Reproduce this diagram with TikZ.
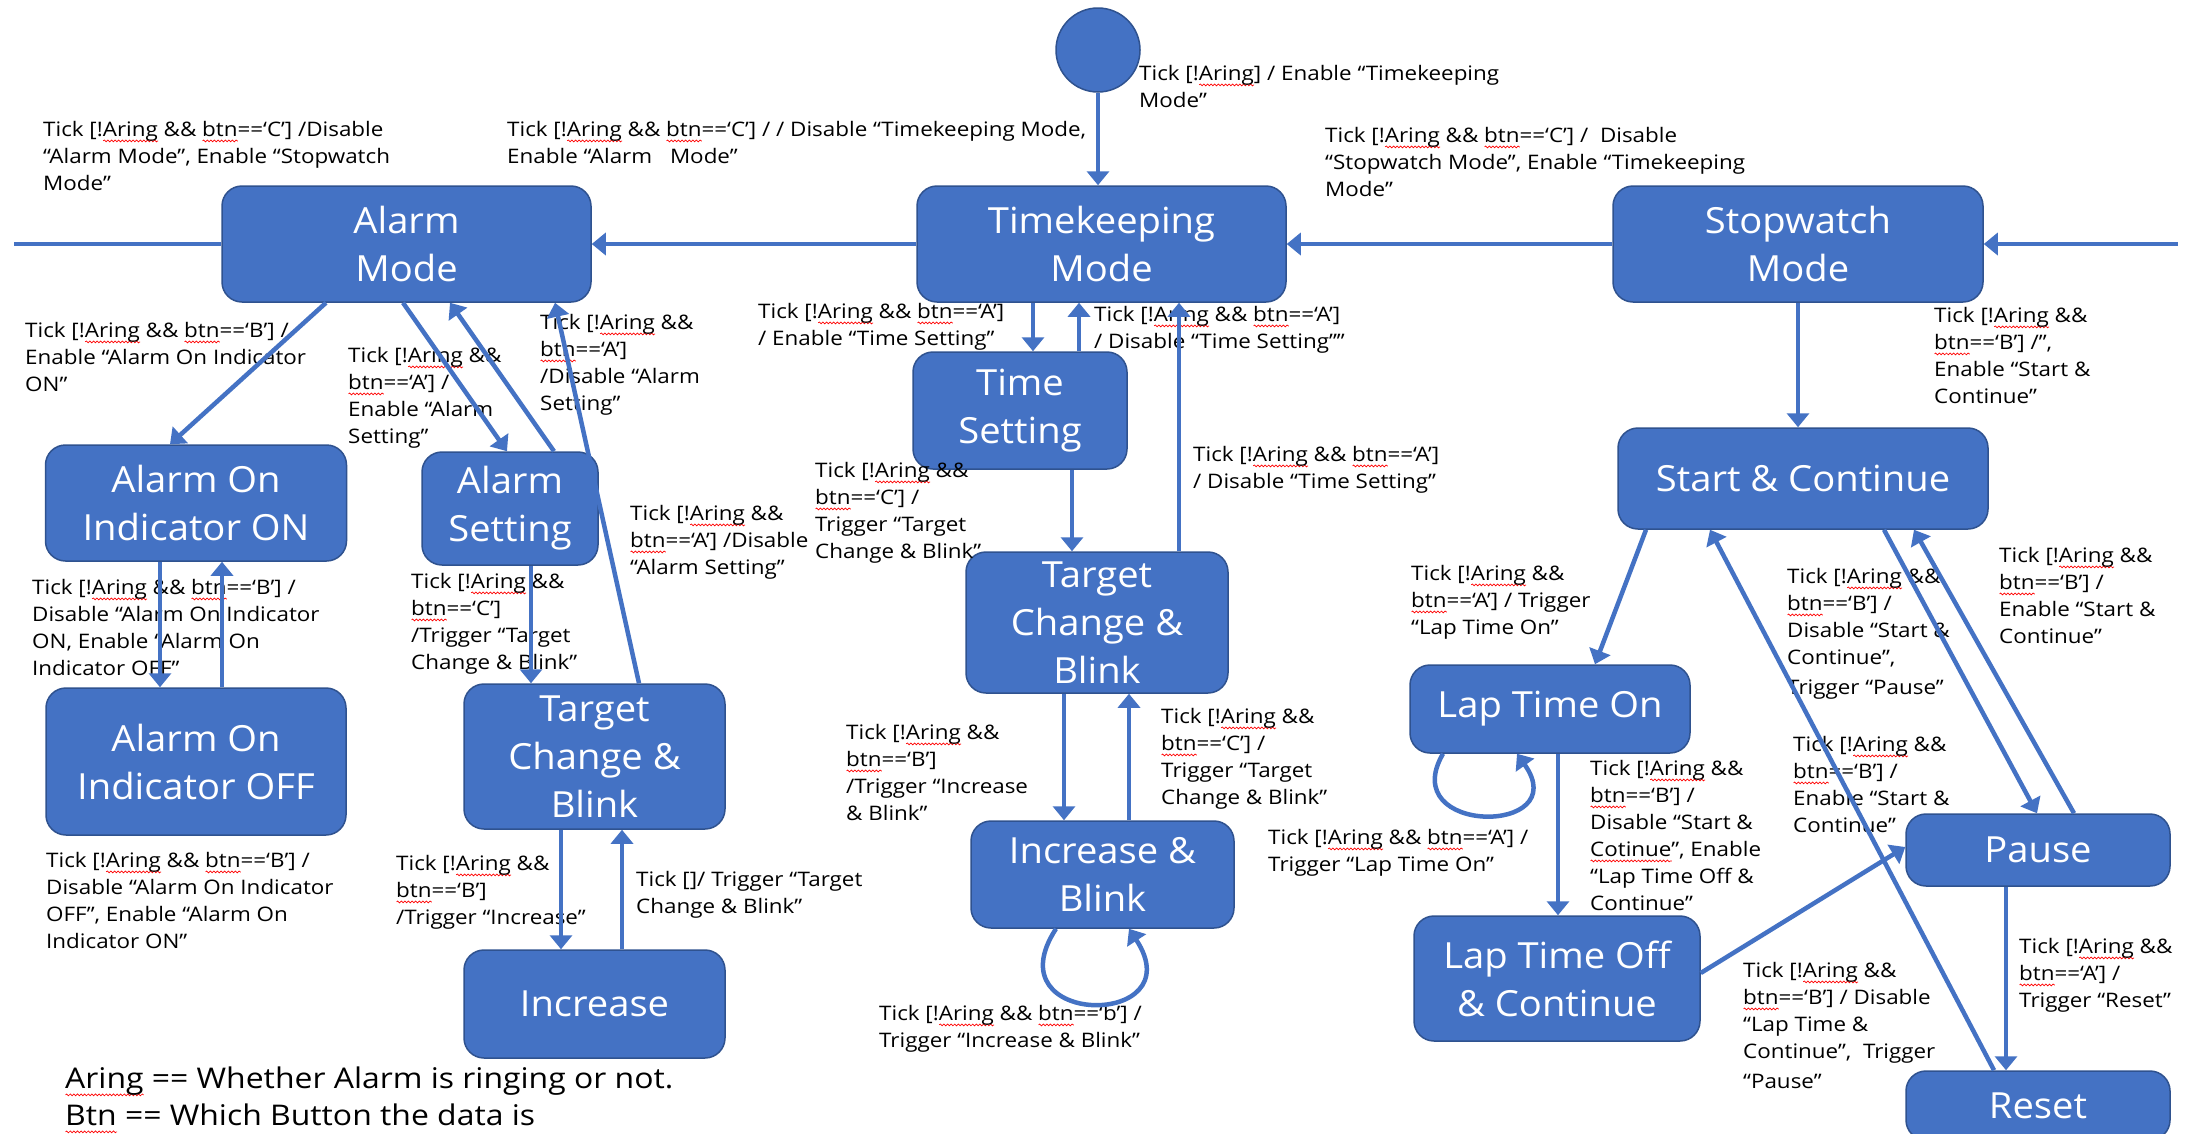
\documentclass[tikz,border=0pt]{standalone}
\usepackage{fontspec}
\setmainfont{Open Sans}[FakeStretch=1.12]
\newfontfamily\nodefont{Open Sans}[FakeStretch=1.06]
\usetikzlibrary{arrows.meta,calc,decorations.pathmorphing}
\definecolor{nblue}{HTML}{4472C4}
\definecolor{nedge}{HTML}{2F528F}
\tikzset{sqline/.style={draw=red, line width=0.7pt, decorate,
  decoration={snake, amplitude=0.9pt, segment length=3.6pt}}}
% red wavy underline (spell-check mark) under a word
\newlength\sqlen
\newcommand\sq[2][4.5pt]{\settowidth\sqlen{#2}\rlap{\smash{\tikz[baseline=0pt]\draw[sqline] (0pt,-#1) -- (\sqlen,-#1);}}#2}
\newcommand\wA{\sq{Aring}}
\newcommand\wB{\sq{btn}}
\begin{document}
\begin{tikzpicture}[x=1pt,y=-1pt,
  stbox/.style={rectangle, rounded corners=20pt, fill=nblue, draw=nedge, line width=1.5pt,
    text=white, align=center, inner sep=0pt, font=\nodefont\fontsize{36}{48}\selectfont},
  lbl/.style={anchor=north west, inner sep=0pt, align=left, text=black,
    font=\fontsize{20}{27}\selectfont},
  arr/.style={draw=nblue, line width=4.5pt, -{Triangle[length=14pt,width=22pt]}},
  ln/.style={draw=nblue, line width=4.5pt}]
\fill[white] (0,0) rectangle (2201,1133);
\useasboundingbox (0,0) rectangle (2201,1133);

% ---- states ----
\node[circle, fill=nblue, draw=nedge, line width=1.5pt, minimum size=84pt, inner sep=0pt] (init) at (1098,50) {};
\node[stbox, minimum width=369pt, minimum height=116pt] (am) at (406.5,244) {Alarm\\Mode};
\node[stbox, minimum width=369pt, minimum height=116pt] (tk) at (1101.5,244) {Timekeeping\\Mode};
\node[stbox, minimum width=370pt, minimum height=116pt] (sw) at (1798,244) {Stopwatch\\Mode};
\node[stbox, minimum width=301pt, minimum height=116pt] (aoi) at (196,503) {Alarm On\\Indicator ON};
\node[stbox, minimum width=176pt, minimum height=113pt] (as) at (510,508.5) {Alarm\\Setting};
\node[stbox, minimum width=300pt, minimum height=147pt] (aoff) at (196,761.5) {Alarm On\\Indicator OFF};
\node[stbox, minimum width=261pt, minimum height=145pt] (tcb1) at (594.5,756.5) {Target\\Change \&\\Blink};
\node[stbox, minimum width=261pt, minimum height=108pt] (inc) at (594.5,1004) {Increase};
\node[stbox, minimum width=214pt, minimum height=117pt] (ts) at (1020,410.5) {Time\\Setting};
\node[stbox, minimum width=262pt, minimum height=141pt] (tcb2) at (1097,622.5) {Target\\Change \&\\Blink};
\node[stbox, minimum width=263pt, minimum height=107pt] (ib) at (1102.5,874.5) {Increase \&\\Blink};
\node[stbox, minimum width=370pt, minimum height=101pt] (sc) at (1803,478.5) {Start \& Continue};
\node[stbox, minimum width=280pt, minimum height=88pt] (lon) at (1550,709) {Lap Time On};
\node[stbox, minimum width=286pt, minimum height=125pt] (loff) at (1557,978.5) {Lap Time Off\\\& Continue};
\node[stbox, minimum width=264pt, minimum height=72pt] (pause) at (2038,850) {Pause};
\node[stbox, minimum width=264pt, minimum height=69pt] (reset) at (2038,1105.5) {Reset};

% ---- transition labels ----
\node[lbl] (l1) at (1139,65) {Tick [!\wA] / Enable “Timekeeping\\Mode”};
\node[lbl] (l2) at (43,121) {Tick [!\wA{} \&\& \wB==‘C’] /Disable\\“Alarm Mode”, Enable “Stopwatch\\Mode”};
\node[lbl] (l3) at (507,121) {Tick [!\wA{} \&\& \wB==‘C’] / / Disable “Timekeeping Mode,\\Enable “Alarm\hspace{12pt} Mode”};
\node[lbl] (l4) at (1325,127) {Tick [!\wA{} \&\& \wB==‘C’] /\ \ Disable\\“Stopwatch Mode”, Enable “Timekeeping\\Mode”};
\node[lbl] (l5) at (25,322) {Tick [!\wA{} \&\& \wB==‘B’] /\\Enable “Alarm On Indicator\\ON”};
\node[lbl] (l6) at (348,347) {Tick [!\wA{} \&\&\\\wB==‘A’] /\\Enable “Alarm\\Setting”};
\node[lbl] (l7) at (540,314) {Tick [!\wA{} \&\&\\\wB==‘A’]\\/Disable “Alarm\\Setting”};
\node[lbl] (l8) at (32,579) {Tick [!\wA{} \&\& \wB==‘B’] /\\Disable “Alarm On Indicator\\ON, Enable “Alarm On\\Indicator OFF”};
\node[lbl] (l9) at (46,852) {Tick [!\wA{} \&\& \wB==‘B’] /\\Disable “Alarm On Indicator\\OFF”, Enable “Alarm On\\Indicator ON”};
\node[lbl] (l10) at (411,573) {Tick [!\wA{} \&\&\\\wB==‘C’]\\/Trigger “Target\\Change \& Blink”};
\node[lbl] (l11) at (396,855) {Tick [!\wA{} \&\&\\\wB==‘B’]\\/Trigger “Increase”};
\node[lbl] (l12) at (636,871) {Tick []/ Trigger “Target\\Change \& Blink”};
\node[lbl] (l13) at (630,505) {Tick [!\wA{} \&\&\\\wB==‘A’] /Disable\\“Alarm Setting”};
\node[lbl] (l14) at (758,303) {Tick [!\wA{} \&\& \wB==‘A’]\\/ Enable “Time Setting”};
\node[lbl] (l15) at (1094,306) {Tick [!\wA{} \&\& \wB==‘A’]\\/ Disable “Time Setting””};
\node[lbl] (l16) at (1193,446) {Tick [!\wA{} \&\& \wB==‘A’]\\/ Disable “Time Setting”};
\node[lbl] (l17) at (815,462) {Tick [!\wA{} \&\&\\\wB==‘C’] /\\Trigger “Target\\Change \& Blink”};
\node[lbl] (l18) at (846,724) {Tick [!\wA{} \&\&\\\wB==‘B’]\\/Trigger “Increase\\\& Blink”};
\node[lbl] (l19) at (1161,708) {Tick [!\wA{} \&\&\\\wB==‘C’] /\\Trigger “Target\\Change \& Blink”};
\node[lbl] (l20) at (879,1005) {Tick [!\wA{} \&\& \wB==‘b’] /\\Trigger “Increase \& Blink”};
\node[lbl] (l21) at (1934,307) {Tick [!\wA{} \&\&\\\wB==‘B’] /”,\\Enable “Start \&\\Continue”};
\node[lbl] (l22) at (1411,565) {Tick [!\wA{} \&\&\\\wB==‘A’] / Trigger\\“Lap Time On”};
\node[lbl] (l23) at (1268,829) {Tick [!\wA{} \&\& \wB==‘A’] /\\Trigger “Lap Time On”};
\node[lbl] (l24) at (1590,760) {Tick [!\wA{} \&\&\\\wB==‘B’] /\\Disable “Start \&\\\sq{Cotinue}”, Enable\\“Lap Time Off \&\\Continue”};
\node[lbl] (l25) at (1743,962) {Tick [!\wA{} \&\&\\\wB==‘B’] / Disable\\“Lap Time \&\\Continue”,\ \ Trigger\\[3pt]“Pause”};
\node[lbl] (l26) at (1787,568) {Tick [!\wA{} \&\&\\\wB==‘B’] /\\Disable “Start \&\\Continue”,\\[3pt]Trigger “Pause”};
\node[lbl] (l27) at (1999,547) {Tick [!\wA{} \&\&\\\wB==‘B’] /\\Enable “Start \&\\Continue”};
\node[lbl] (l28) at (1793,736) {Tick [!\wA{} \&\&\\\wB==‘B’] /\\Enable “Start \&\\Continue”};
\node[lbl] (l29) at (2019,938) {Tick [!\wA{} \&\&\\\wB==‘A’] /\\Trigger “Reset”};
\node[lbl, font=\fontsize{28.5}{37}\selectfont] (legend) at (65,1067)
  {\sq[6pt]{Aring} == Whether Alarm is ringing or not.\\\sq[6pt]{Btn} == Which Button the data is};

% ---- transitions ----
\coordinate (wl) at (14,244);
\coordinate (wr) at (2178,244);
\draw[arr] (init.south) -- (init.south |- tk.north);
\draw[ln] (wl) -- (am.west);
\draw[arr] (wr) -- (sw.east);
\draw[arr] (tk.west) -- (am.east);
\draw[arr] (sw.west) -- (tk.east);

\draw[arr] ([xshift=-80.5pt]am.south) -- ([xshift=-26pt]aoi.north);
\draw[arr] ([xshift=-3.5pt]am.south) -- ([xshift=-3pt]as.north);
\draw[arr] ([xshift=44pt]as.north) -- ([xshift=43.5pt]am.south);
\draw[arr] ([xshift=44.5pt]tcb1.north) -- ([xshift=148.5pt]am.south);
\draw[arr] ([xshift=-36pt]aoi.south) -- ([xshift=-36pt]aoi.south |- aoff.north);
\draw[arr] ([xshift=26pt]aoff.north) -- ([xshift=26pt]aoff.north |- aoi.south);
\draw[arr] ([xshift=21pt]as.south) -- ([xshift=21pt]as.south |- tcb1.north);
\draw[arr] ([xshift=-33.5pt]tcb1.south) -- ([xshift=-33.5pt]tcb1.south |- inc.north);
\draw[arr] ([xshift=27.5pt]inc.north) -- ([xshift=27.5pt]inc.north |- tcb1.south);

\draw[arr] ([xshift=-68.5pt]tk.south) -- ([xshift=-68.5pt]tk.south |- ts.north);
\draw[arr] ([xshift=59pt]ts.north) -- ([xshift=59pt]ts.north |- tk.south);
\draw[arr] ([xshift=82pt]tcb2.north) -- ([xshift=82pt]tcb2.north |- tk.south);
\draw[arr] ([xshift=52pt]ts.south) -- ([xshift=52pt]ts.south |- tcb2.north);
\draw[arr] ([xshift=-33pt]tcb2.south) -- ([xshift=-33pt]tcb2.south |- ib.north);
\draw[arr] ([xshift=26.5pt]ib.north) -- ([xshift=26.5pt]ib.north |- tcb2.south);
\draw[arr] ([xshift=-46.5pt]ib.south) .. controls ($(ib.south)+(-112,100)$) and ($(ib.south)+(92,100)$) .. ([xshift=26.5pt]ib.south);

\draw[arr] (sw.south) -- (sw.south |- sc.north);
\draw[arr] ([xshift=-157pt]sc.south) -- ([xshift=45pt]lon.north);
\draw[arr] ([xshift=-107pt]lon.south) .. controls ($(lon.south)+(-155,82)$) and ($(lon.south)+(25,82)$) .. ([xshift=-33pt]lon.south);
\draw[arr] ([xshift=8pt]lon.south) -- ([xshift=8pt]lon.south |- loff.north);
\draw[arr] ($(loff.east)+(0,-5.5)$) -- ($(pause.west)+(0,-3)$);
\draw[arr] ([xshift=-44pt]reset.north) -- ([xshift=-93pt]sc.south);
\draw[arr] ([xshift=81pt]sc.south) -- ([xshift=-1pt]pause.north);
\draw[arr] ([xshift=36pt]pause.north) -- ([xshift=111pt]sc.south);
\draw[arr] ([xshift=-32pt]pause.south) -- ([xshift=-32pt]pause.south |- reset.north);
\end{tikzpicture}
\end{document}
